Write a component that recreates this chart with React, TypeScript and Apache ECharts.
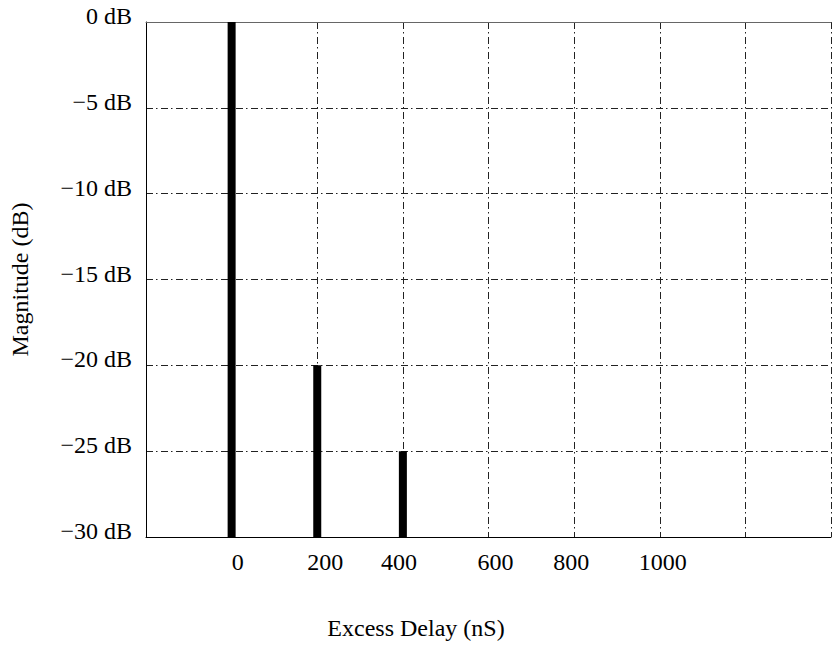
import React, { useEffect, useRef } from "react";
import * as echarts from "echarts";

const delays = [0, 200, 400];
const magnitudes = [0, -20, -25];
const xTickLabels = [0, 200, 400, 600, 800, 1000];
const yMin = -30;
const yMax = 0;

const FONT = "'Liberation Serif', 'Times New Roman', serif";
const dashDot = [7, 3, 1.5, 3.5];
// small horizontal nudges (px) of the x tick labels, as in the reference typesetting
const xLabelNudge: Record<number, number> = { 0: 6, 200: 8, 400: -4, 600: 7, 800: -3, 1000: 3 };

export default function App() {
  const ref = useRef<HTMLDivElement>(null);
  useEffect(() => {
    document.body.style.margin = "0";
    const chart = echarts.init(ref.current!, null, { renderer: "svg" });
    const data = delays.map((d, i) => [d, magnitudes[i]]);
    const rich: Record<string, any> = {};
    xTickLabels.forEach((v) => {
      const n = xLabelNudge[v] || 0;
      rich["t" + v] = {
        fontFamily: FONT,
        fontSize: 24,
        color: "#000",
        padding: n >= 0 ? [0, 0, 0, 2 * n] : [0, -2 * n, 0, 0],
      };
    });
    chart.setOption({
      animation: false,
      backgroundColor: "#fff",
      grid: { left: 146, top: 22, width: 693, height: 519, containLabel: false },
      xAxis: [
        {
          type: "value",
          min: -200,
          max: 1400,
          interval: 200,
          position: "bottom",
          name: "Excess Delay (nS)",
          nameLocation: "middle",
          nameGap: 79,
          nameTextStyle: { fontFamily: FONT, fontSize: 24, color: "#000", padding: [0, 145, 0, 0] },
          axisLine: { onZero: false, lineStyle: { color: "#000", width: 1 } },
          axisTick: { show: false },
          axisLabel: {
            margin: 13,
            fontFamily: FONT,
            fontSize: 24,
            color: "#000",
            rich,
            formatter: (v: number) => (xTickLabels.indexOf(v) >= 0 ? "{t" + v + "|" + v + "}" : ""),
          },
          splitLine: { show: true, lineStyle: { color: "#222", width: 1, type: dashDot } },
        },
        {
          type: "value",
          min: -200,
          max: 1400,
          interval: 200,
          position: "top",
          axisLine: { onZero: false, lineStyle: { color: "#666", width: 1 } },
          axisTick: { show: false },
          axisLabel: { show: false },
          splitLine: { show: false },
        },
      ],
      yAxis: {
        type: "value",
        min: yMin,
        max: yMax,
        interval: 5,
        name: "Magnitude (dB)",
        nameLocation: "middle",
        nameGap: 114,
        nameTextStyle: { fontFamily: FONT, fontSize: 24, color: "#000" },
        axisLine: { show: true, onZero: false, lineStyle: { color: "#000", width: 1 } },
        axisTick: { show: false },
        axisLabel: {
          margin: 14,
          fontFamily: FONT,
          fontSize: 24,
          color: "#000",
          verticalAlign: "bottom",
          lineHeight: 12,
          formatter: (v: number) => (v < 0 ? "\u2212" + -v : String(v)) + " dB",
        },
        splitLine: { show: true, lineStyle: { color: "#222", width: 1, type: dashDot } },
      },
      series: [
        {
          type: "custom",
          xAxisIndex: 0,
          data,
          renderItem: (params: any, api: any) => {
            const x = api.value(0);
            const v = api.value(1);
            const top = api.coord([x, v]);
            const bot = api.coord([x, yMin]);
            return {
              type: "rect",
              shape: { x: top[0] - 4, y: top[1], width: 8, height: bot[1] - top[1] },
              style: { fill: "#000" },
            };
          },
        },
      ],
    });
    return () => chart.dispose();
  }, []);
  return <div ref={ref} style={{ position: "absolute", left: 0, top: 0, width: 834, height: 645 }} />;
}
